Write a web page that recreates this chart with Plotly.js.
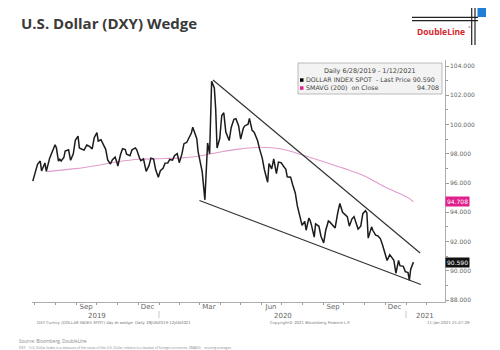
<!DOCTYPE html>
<html><head><meta charset="utf-8">
<script src="https://cdn.plot.ly/plotly-3.0.1.min.js"></script>
<style>html,body{margin:0;padding:0;background:#fff;}#chart{width:500px;height:350px;}</style>
</head><body><div id="chart"></div>
<script>
// ---- Data ----
const dates = ['2019-06-28','2019-07-02','2019-07-05','2019-07-09','2019-07-11','2019-07-16','2019-07-18','2019-07-23','2019-07-26','2019-07-31',
'2019-08-02','2019-08-05','2019-08-07','2019-08-09','2019-08-13','2019-08-15','2019-08-20','2019-08-23','2019-08-27','2019-08-30',
'2019-09-03','2019-09-05','2019-09-09','2019-09-12','2019-09-16','2019-09-18','2019-09-20','2019-09-24','2019-09-27','2019-10-01',
'2019-10-03','2019-10-07','2019-10-10','2019-10-14','2019-10-17','2019-10-21','2019-10-24','2019-10-28','2019-10-31','2019-11-01',
'2019-11-05','2019-11-08','2019-11-12','2019-11-14','2019-11-19','2019-11-22','2019-11-27','2019-11-29','2019-12-03','2019-12-05',
'2019-12-09','2019-12-13','2019-12-17','2019-12-20','2019-12-24','2019-12-27','2019-12-31','2020-01-03','2020-01-07','2020-01-10',
'2020-01-14','2020-01-17','2020-01-21','2020-01-24','2020-01-28','2020-01-31','2020-02-04','2020-02-07','2020-02-11','2020-02-14',
'2020-02-18','2020-02-20','2020-02-24','2020-02-26','2020-02-28','2020-03-03','2020-03-05','2020-03-09','2020-03-11','2020-03-13',
'2020-03-16','2020-03-18','2020-03-19','2020-03-23','2020-03-25','2020-03-27','2020-03-31','2020-04-03','2020-04-06','2020-04-09',
'2020-04-14','2020-04-17','2020-04-21','2020-04-24','2020-04-28','2020-05-01','2020-05-05','2020-05-07','2020-05-12','2020-05-14',
'2020-05-18','2020-05-21','2020-05-26','2020-05-29','2020-06-02','2020-06-05','2020-06-10','2020-06-12','2020-06-16','2020-06-19',
'2020-06-23','2020-06-26','2020-06-30','2020-07-03','2020-07-07','2020-07-09','2020-07-14','2020-07-17','2020-07-21','2020-07-24',
'2020-07-28','2020-07-31','2020-08-04','2020-08-06','2020-08-10','2020-08-12','2020-08-14','2020-08-18','2020-08-20','2020-08-25',
'2020-08-28','2020-09-01','2020-09-04','2020-09-08','2020-09-10','2020-09-15','2020-09-18','2020-09-22','2020-09-25','2020-09-29',
'2020-10-02','2020-10-06','2020-10-09','2020-10-13','2020-10-16','2020-10-20','2020-10-22','2020-10-26','2020-10-29','2020-11-02',
'2020-11-04','2020-11-06','2020-11-09','2020-11-11','2020-11-13','2020-11-17','2020-11-20','2020-11-24','2020-11-27','2020-12-01',
'2020-12-04','2020-12-08','2020-12-10','2020-12-14','2020-12-17','2020-12-21','2020-12-23','2020-12-28','2020-12-31','2021-01-04',
'2021-01-06','2021-01-08','2021-01-12'];
const dxy = [96.13,96.75,97.28,97.50,96.83,97.37,96.80,97.70,98.02,98.62,
98.39,97.50,97.62,97.50,97.74,98.18,98.27,97.55,98.00,98.92,
99.20,98.40,98.31,98.25,98.60,98.56,98.50,98.33,99.10,99.45,
98.87,98.96,98.70,98.30,97.58,97.30,97.60,97.77,97.35,97.15,
97.95,98.35,98.28,97.97,97.86,98.27,98.40,98.27,97.72,97.53,
97.64,96.80,97.17,97.70,97.64,96.92,96.39,96.84,97.00,97.36,
97.37,97.61,97.56,97.87,98.01,97.39,97.99,98.69,98.77,99.08,
99.42,99.82,99.35,99.03,98.13,97.18,96.78,94.85,96.40,98.74,
98.00,101.60,102.95,102.50,101.05,98.39,99.04,100.62,100.80,99.49,
98.90,99.80,100.35,100.40,99.90,99.00,99.76,99.90,100.02,100.42,
99.60,99.47,98.90,98.33,97.70,96.94,96.05,97.33,96.97,97.64,
96.64,97.43,97.39,97.18,96.94,96.42,96.40,95.90,95.30,94.43,
93.70,93.10,93.38,92.77,93.60,93.43,93.10,92.30,93.20,93.04,
92.36,91.90,92.75,93.40,93.34,93.05,92.93,94.00,94.60,94.00,
93.84,93.70,93.05,93.55,93.70,93.10,92.85,93.05,93.90,94.10,
93.95,92.23,92.70,93.00,92.75,92.43,92.39,92.20,91.79,91.10,
90.70,91.10,90.95,90.72,89.83,90.70,90.35,90.30,89.94,89.88,
89.35,90.10,90.59];
const smaDates = ['2019-07-19','2019-08-30','2019-10-01','2019-11-01','2019-12-02','2020-01-02','2020-02-03','2020-03-02',
'2020-04-01','2020-05-01','2020-06-01','2020-07-01','2020-08-03','2020-09-01','2020-10-01','2020-11-02','2020-12-01','2021-01-04','2021-01-12'];
const sma = [96.78,96.98,97.20,97.45,97.62,97.66,97.72,97.85,98.12,98.33,98.44,98.32,97.88,97.45,97.00,96.45,95.72,95.00,94.71];
const upperWedgeDates = ['2020-03-21','2021-01-22'];
const upperWedge = [103.04,91.21];
const lowerWedgeDates = ['2020-03-01','2021-01-23'];
const lowerWedge = [94.80,89.06];
const monthTickDates = ['2019-09-15','2019-12-15','2020-03-15','2020-06-15','2020-09-15','2020-12-15'];
const monthTickText = ['Sep','Dec','Mar','Jun','Sep','Dec'];
const yTicks = [88,90,92,94,96,98,100,102,104];
const lastPrice = 90.590, lastSma = 94.708;

// ---- Layout helpers (pixel -> paper) ----
const L=32, T=60, W=413, H=242;
const PX = x => (x-L)/W, PY = y => (T+H-y)/H;
const F = 'DejaVu Sans, Verdana, sans-serif';

const traces = [
  {x: smaDates, y: sma, type:'scatter', mode:'lines', line:{color:'#e29ccd', width:1.1, shape:'spline'}, hoverinfo:'skip'},
  {x: dates, y: dxy, type:'scatter', mode:'lines', line:{color:'#1c1c1c', width:1.5}, hoverinfo:'skip'},
  {x: upperWedgeDates, y: upperWedge, type:'scatter', mode:'lines', line:{color:'#333', width:1.2}, hoverinfo:'skip'},
  {x: lowerWedgeDates, y: lowerWedge, type:'scatter', mode:'lines', line:{color:'#333', width:1.2}, hoverinfo:'skip'}
];

const ann = [];
function txt(x,y,text,size,color,xa,extra){ann.push(Object.assign({xref:'paper',yref:'paper',x:PX(x),y:PY(y),text:text,showarrow:false,xanchor:xa||'left',yanchor:'middle',font:{family:F,size:size,color:color}},extra||{}));}
// legend box texts
txt(370,71,'Daily 6/28/2019 - 1/12/2021',6.5,'#444','center');
txt(304,80,'DOLLAR INDEX SPOT  - Last Price 90.590',6.3,'#444','left');
txt(304,88,'SMAVG (200)  on Close',6.3,'#444','left');
txt(441,88,lastSma.toFixed(3),6.3,'#444','right');
// year labels
txt(97,315.5,'2019',7,'#666','center');
txt(283,315.5,'2020',7,'#666','center');
txt(425,315.5,'2021',7,'#666','center');
// bloomberg footnotes
txt(35,322.5,'DXY Curncy (DOLLAR INDEX SPOT) day at wedge  Daily 28JUN2019-12JAN2021',3.9,'#777','left');
txt(268,322.5,'Copyright© 2021 Bloomberg Finance L.P.',3.9,'#777','left');
txt(472,322.5,'11-Jan-2021 21:27:29',3.9,'#777','right');
// source
txt(17,341,'Source: Bloomberg, DoubleLine',4.6,'#888','left',{font:{family:'Open Sans, sans-serif',size:4.6,color:'#888'}});
txt(17,347,'DXY = U.S. Dollar Index is a measure of the value of the U.S. Dollar relative to a basket of foreign currencies. SMAVG = moving averages.',3.4,'#888','left',{font:{family:'Open Sans, sans-serif',size:3.4,color:'#888'}});
// logo text
txt(441,32,'<b>DoubleLine</b>',8.5,'#d7262e','center',{font:{family:'Open Sans, sans-serif',size:8.5,color:'#d7262e'}});
txt(469,27,'®',3,'#d7262e','center');
// price tags on axis
ann.push({xref:'paper',yref:'y',x:1,y:lastSma,xanchor:'left',yanchor:'middle',showarrow:false,text:lastSma.toFixed(3),bgcolor:'#e0208c',borderpad:1,font:{family:F,size:6,color:'#fff'}});
ann.push({xref:'paper',yref:'y',x:1,y:lastPrice,xanchor:'left',yanchor:'middle',showarrow:false,text:lastPrice.toFixed(3),bgcolor:'#111',borderpad:1,font:{family:F,size:6,color:'#fff'}});

const shapes = [
  // legend box
  {type:'rect',xref:'paper',yref:'paper',x0:PX(298),x1:PX(442),y0:PY(94),y1:PY(63),fillcolor:'#f3f3f3',line:{color:'#aaa',width:0.8},layer:'above'},
  {type:'rect',xref:'paper',yref:'paper',x0:PX(300),x1:PX(303.5),y0:PY(81.8),y1:PY(78.3),fillcolor:'#000',line:{width:0},layer:'above'},
  {type:'rect',xref:'paper',yref:'paper',x0:PX(300),x1:PX(303.5),y0:PY(89.8),y1:PY(86.3),fillcolor:'#e0208c',line:{width:0},layer:'above'},
  // year separators
  {type:'line',xref:'paper',yref:'paper',x0:PX(159),x1:PX(159),y0:PY(311),y1:PY(318),line:{color:'#bbb',width:0.8}},
  {type:'line',xref:'paper',yref:'paper',x0:PX(406),x1:PX(406),y0:PY(311),y1:PY(318),line:{color:'#bbb',width:0.8}},
  // logo
  {type:'line',xref:'paper',yref:'paper',x0:PX(412),x1:PX(478),y0:PY(17.3),y1:PY(17.3),line:{color:'#222',width:1.2}},
  {type:'line',xref:'paper',yref:'paper',x0:PX(412),x1:PX(478),y0:PY(20.7),y1:PY(20.7),line:{color:'#222',width:1.2}},
  {type:'line',xref:'paper',yref:'paper',x0:PX(471.7),x1:PX(471.7),y0:PY(8),y1:PY(45),line:{color:'#222',width:1.2}},
  {type:'line',xref:'paper',yref:'paper',x0:PX(475),x1:PX(475),y0:PY(8),y1:PY(45),line:{color:'#222',width:1.2}},
  {type:'rect',xref:'paper',yref:'paper',x0:PX(477.5),x1:PX(486),y0:PY(17),y1:PY(8),fillcolor:'#1f7ed6',line:{width:0}}
];

const layout = {
  width:500, height:350,
  margin:{l:L, r:500-L-W, t:T, b:350-T-H, pad:0},
  paper_bgcolor:'#fff', plot_bgcolor:'#fff',
  showlegend:false,
  title:{text:'<b>U.S. Dollar (DXY) Wedge</b>', x:21/500, xanchor:'left', xref:'container', y:1-23.5/350, yanchor:'middle', yref:'container', font:{family:'Open Sans, sans-serif', size:15, color:'#3a3a3a'}},
  xaxis:{type:'date', range:['2019-06-26 19:30','2021-02-27 19:00'], showgrid:false, zeroline:false,
    showline:true, linecolor:'#999', linewidth:0.8,
    tickmode:'array', tickvals:monthTickDates, ticktext:monthTickText, ticks:'', ticklen:0, ticklabelstandoff:-2,
    tickfont:{family:F,size:7,color:'#666'},
    minor:{ticks:'outside', ticklen:2, tickcolor:'#999', tick0:'2019-07-01', dtick:'M1', showgrid:false}},
  yaxis:{side:'right', range:[87.863,104.41], showgrid:false, zeroline:false,
    showline:true, linecolor:'#999', linewidth:0.8,
    tickmode:'array', tickvals:yTicks, tickformat:'.3f', ticks:'outside', ticklen:3, tickcolor:'#999',
    tickfont:{family:F,size:6,color:'#666'},
    minor:{ticks:'outside', ticklen:2, tickcolor:'#999', dtick:1, tick0:88, showgrid:false}},
  annotations:ann, shapes:shapes
};
Plotly.newPlot('chart', traces, layout, {staticPlot:true, displayModeBar:false});
</script></body></html>
